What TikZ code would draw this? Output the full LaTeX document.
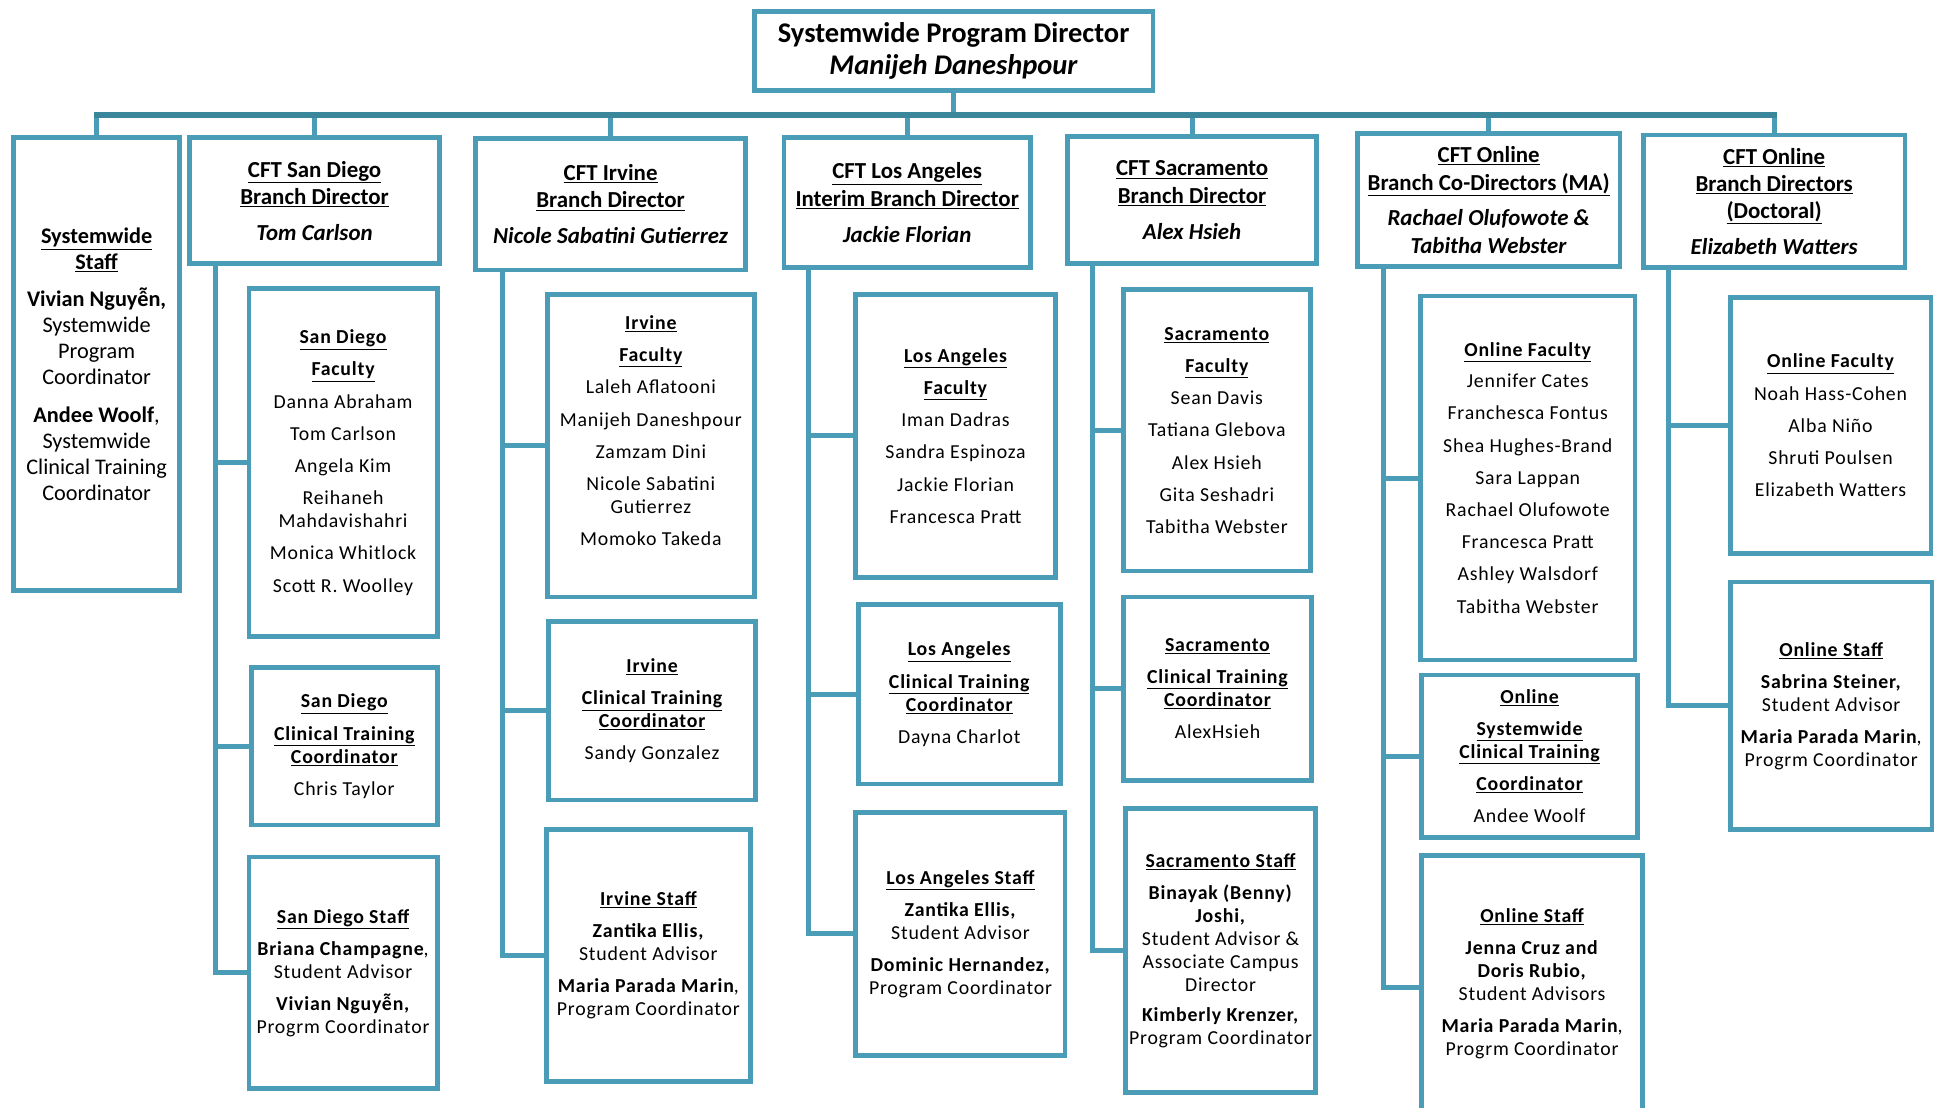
\documentclass[tikz,border=0pt]{standalone}
\usepackage{fontspec}
\setmainfont{Carlito}
\newfontfamily\subfont{Carlito}[LetterSpace=4]

\definecolor{boxblue}{RGB}{75,156,182}
\definecolor{busblue}{RGB}{58,134,155}
\newcommand{\hd}[1]{\textbf{\underline{#1}}}

\tikzset{
  box/.style={draw=boxblue, line width=3.8pt, fill=white, align=center, inner sep=0pt},
  topbox/.style={box, font=\fontsize{23}{26}\selectfont\bfseries},
  branchbox/.style={box, font=\fontsize{18.5}{22}\selectfont},
  staffbox/.style={box, font=\fontsize{18}{21}\selectfont},
  subbox/.style={box, font=\subfont\fontsize{16}{18.5}\selectfont},
  stem/.style={draw=boxblue, line width=4pt, line cap=rect},
  busline/.style={draw=busblue, line width=4.8pt, line cap=rect},
}

\begin{document}
\begin{tikzpicture}[x=1pt,y=-1pt]
\useasboundingbox (0,0) rectangle (1568,894);

% director
\node[topbox, minimum width=322pt, minimum height=64pt] (top) at (770,41)
  {Systemwide Program Director\\ \textit{Manijeh Daneshpour}};

% branch directors
\node[staffbox, minimum width=134pt, minimum height=366pt] (sw) at (78,294)
  {\hd{Systemwide}\\ \hd{Staff}\\[9pt] \textbf{Vivian Nguyễn,}\\ Systemwide\\ Program\\ Coordinator\\[9pt]
   \textbf{Andee Woolf},\\ Systemwide\\ Clinical Training\\ Coordinator};
\node[branchbox, minimum width=202pt, minimum height=102pt] (sd) at (254,162)
  {\hd{CFT San Diego}\\ \hd{Branch Director}\\[7pt] \textbf{\textit{Tom Carlson}}};
\node[branchbox, minimum width=218pt, minimum height=106pt] (irv) at (493,165)
  {\hd{CFT Irvine}\\ \hd{Branch Director}\\[7pt] \textbf{\textit{Nicole Sabatini Gutierrez}}};
\node[branchbox, minimum width=199pt, minimum height=105pt] (la) at (732.5,163.5)
  {\hd{CFT Los Angeles}\\ \hd{Interim Branch Director}\\[7pt] \textbf{\textit{Jackie Florian}}};
\node[branchbox, minimum width=201pt, minimum height=103pt] (sac) at (962.5,161.5)
  {\hd{CFT Sacramento}\\ \hd{Branch Director}\\[7pt] \textbf{\textit{Alex Hsieh}}};
\node[branchbox, minimum width=212pt, minimum height=107pt] (onl) at (1202,161.5)
  {\hd{CFT Online}\\ \hd{Branch Co-Directors (MA)}\\[7pt] \textbf{\textit{Rachael Olufowote \&}}\\ \textbf{\textit{Tabitha Webster}}};
\node[branchbox, minimum width=211pt, minimum height=107pt] (doc) at (1432.5,162.5)
  {\hd{CFT Online}\\ \hd{Branch Directors}\\ \hd{(Doctoral)}\\[7pt] \textbf{\textit{Elizabeth Watters}}};

% san diego
\node[subbox, minimum width=152pt, minimum height=281pt] (sdfac) at (277,373.5)
  {\hd{San Diego}\\[7.5pt] \hd{Faculty}\\[7.5pt] Danna Abraham\\[7.5pt] Tom Carlson\\[7.5pt] Angela Kim\\[7.5pt]
   Reihaneh\\ Mahdavishahri\\[7.5pt] Monica Whitlock\\[7.5pt] Scott R. Woolley};
\node[subbox, minimum width=150pt, minimum height=127pt] (sdclin) at (278,602.5)
  {\hd{San Diego}\\[7.5pt] \hd{Clinical Training}\\ \hd{Coordinator}\\[7.5pt] Chris Taylor};
\node[subbox, minimum width=152pt, minimum height=187pt] (sdstaff) at (277,785.5)
  {\hd{San Diego Staff}\\[7.5pt] \textbf{Briana Champagne},\\ Student Advisor\\[7.5pt] \textbf{Vivian Nguyễn,}\\ Progrm Coordinator};

% irvine
\node[subbox, minimum width=167pt, minimum height=244pt] (irvfac) at (525.5,360)
  {\hd{Irvine}\\[7.5pt] \hd{Faculty}\\[7.5pt] Laleh Aflatooni\\[7.5pt] Manijeh Daneshpour\\[7.5pt] Zamzam Dini\\[7.5pt]
   Nicole Sabatini\\ Gutierrez\\[7.5pt] Momoko Takeda\\[6pt] \mbox{}};
\node[subbox, minimum width=167pt, minimum height=144pt] (irvclin) at (526.5,574)
  {\hd{Irvine}\\[7.5pt] \hd{Clinical Training}\\ \hd{Coordinator}\\[7.5pt] Sandy Gonzalez};
\node[subbox, minimum width=165pt, minimum height=203pt] (irvstaff) at (523.5,771.5)
  {\hd{Irvine Staff}\\[7.5pt] \textbf{Zantika Ellis,}\\ Student Advisor\\[7.5pt] \textbf{Maria Parada Marin},\\ Program Coordinator};

% los angeles
\node[subbox, minimum width=161pt, minimum height=228pt] (lafac) at (771.5,352)
  {\hd{Los Angeles}\\[7.5pt] \hd{Faculty}\\[7.5pt] Iman Dadras\\[7.5pt] Sandra Espinoza\\[7.5pt] Jackie Florian\\[7.5pt] Francesca Pratt};
\node[subbox, minimum width=163pt, minimum height=145pt] (laclin) at (774.5,560.5)
  {\hd{Los Angeles}\\[7.5pt] \hd{Clinical Training}\\ \hd{Coordinator}\\[7.5pt] Dayna Charlot};
\node[subbox, minimum width=169pt, minimum height=196pt] (lastaff) at (775.5,754)
  {\hd{Los Angeles Staff}\\[7.5pt] \textbf{Zantika Ellis,}\\ Student Advisor\\[7.5pt] \textbf{Dominic Hernandez,}\\ Program Coordinator};

% sacramento
\node[subbox, minimum width=151pt, minimum height=227pt] (sacfac) at (982.5,347.5)
  {\hd{Sacramento}\\[7.5pt] \hd{Faculty}\\[7.5pt] Sean Davis\\[7.5pt] Tatiana Glebova\\[7.5pt] Alex Hsieh\\[7.5pt] Gita Seshadri\\[7.5pt] Tabitha Webster};
\node[subbox, minimum width=152pt, minimum height=148pt] (sacclin) at (983,556)
  {\hd{Sacramento}\\[7.5pt] \hd{Clinical Training}\\ \hd{Coordinator}\\[7.5pt] AlexHsieh};
\node[subbox, minimum width=153pt, minimum height=229pt] (sacstaff) at (985.5,767.5)
  {\hd{Sacramento Staff}\\[7.5pt] \textbf{Binayak (Benny)}\\ \textbf{Joshi,}\\ Student Advisor \&\\ Associate Campus\\ Director\\[6pt]
   \textbf{Kimberly Krenzer,}\\ Program Coordinator};

% online (MA)
\node[subbox, minimum width=173pt, minimum height=294pt] (onlfac) at (1233.5,386)
  {\hd{Online Faculty}\\[6.5pt] Jennifer Cates\\[7.5pt] Franchesca Fontus\\[7.5pt] Shea Hughes-Brand\\[7.5pt] Sara Lappan\\[7.5pt]
   Rachael Olufowote\\[7.5pt] Francesca Pratt\\[7.5pt] Ashley Walsdorf\\[7.5pt] Tabitha Webster};
\node[subbox, minimum width=174pt, minimum height=131pt] (onlclin) at (1235,610.5)
  {\hd{Online}\\[7.5pt] \hd{Systemwide}\\ \hd{Clinical Training}\\[7.5pt] \hd{Coordinator}\\[7.5pt] Andee Woolf};
\node[subbox, minimum width=178pt, minimum height=213pt] (onlstaff) at (1237,797.5)
  {\hd{Online Staff}\\[7.5pt] \textbf{Jenna Cruz and}\\ \textbf{Doris Rubio,}\\ Student Advisors\\[7.5pt] \textbf{Maria Parada Marin},\\ Progrm Coordinator\\[-9pt] \mbox{}};

% online (doctoral)
\node[subbox, minimum width=162pt, minimum height=207pt] (docfac) at (1478,343.5)
  {\hd{Online Faculty}\\[7.5pt] Noah Hass-Cohen\\[7.5pt] Alba Niño\\[7.5pt] Shruti Poulsen\\[7.5pt] Elizabeth Watters};
\node[subbox, minimum width=163pt, minimum height=200pt] (docstaff) at (1478.5,570)
  {\hd{Online Staff}\\[7.5pt] \textbf{Sabrina Steiner,}\\ Student Advisor\\[7.5pt] \textbf{Maria Parada Marin},\\ Progrm Coordinator};

% bus to the branches
\coordinate (bus) at (770,93);
\draw[stem] (top.south) -- (bus);
\foreach \b in {sw,sd,irv,la,sac,onl,doc}
  \draw[stem] (\b.north) -- (\b.north |- bus);
\draw[busline] (sw.north |- bus) -- (doc.north |- bus);

% stems down each branch
\coordinate (sdroot) at (174,213);
\coordinate (irvroot) at (406,218);
\coordinate (laroot) at (653,216);
\coordinate (sacroot) at (882,213);
\coordinate (onlroot) at (1117,215);
\coordinate (docroot) at (1347,216);
\foreach \r/\c in {sd/sdfac,sd/sdclin,sd/sdstaff,irv/irvfac,irv/irvclin,irv/irvstaff,
                   la/lafac,la/laclin,la/lastaff,sac/sacfac,sac/sacclin,sac/sacstaff,
                   onl/onlfac,onl/onlclin,onl/onlstaff,doc/docfac,doc/docstaff}
  \draw[stem] (\r root) |- (\c.west);

\end{tikzpicture}
\end{document}
